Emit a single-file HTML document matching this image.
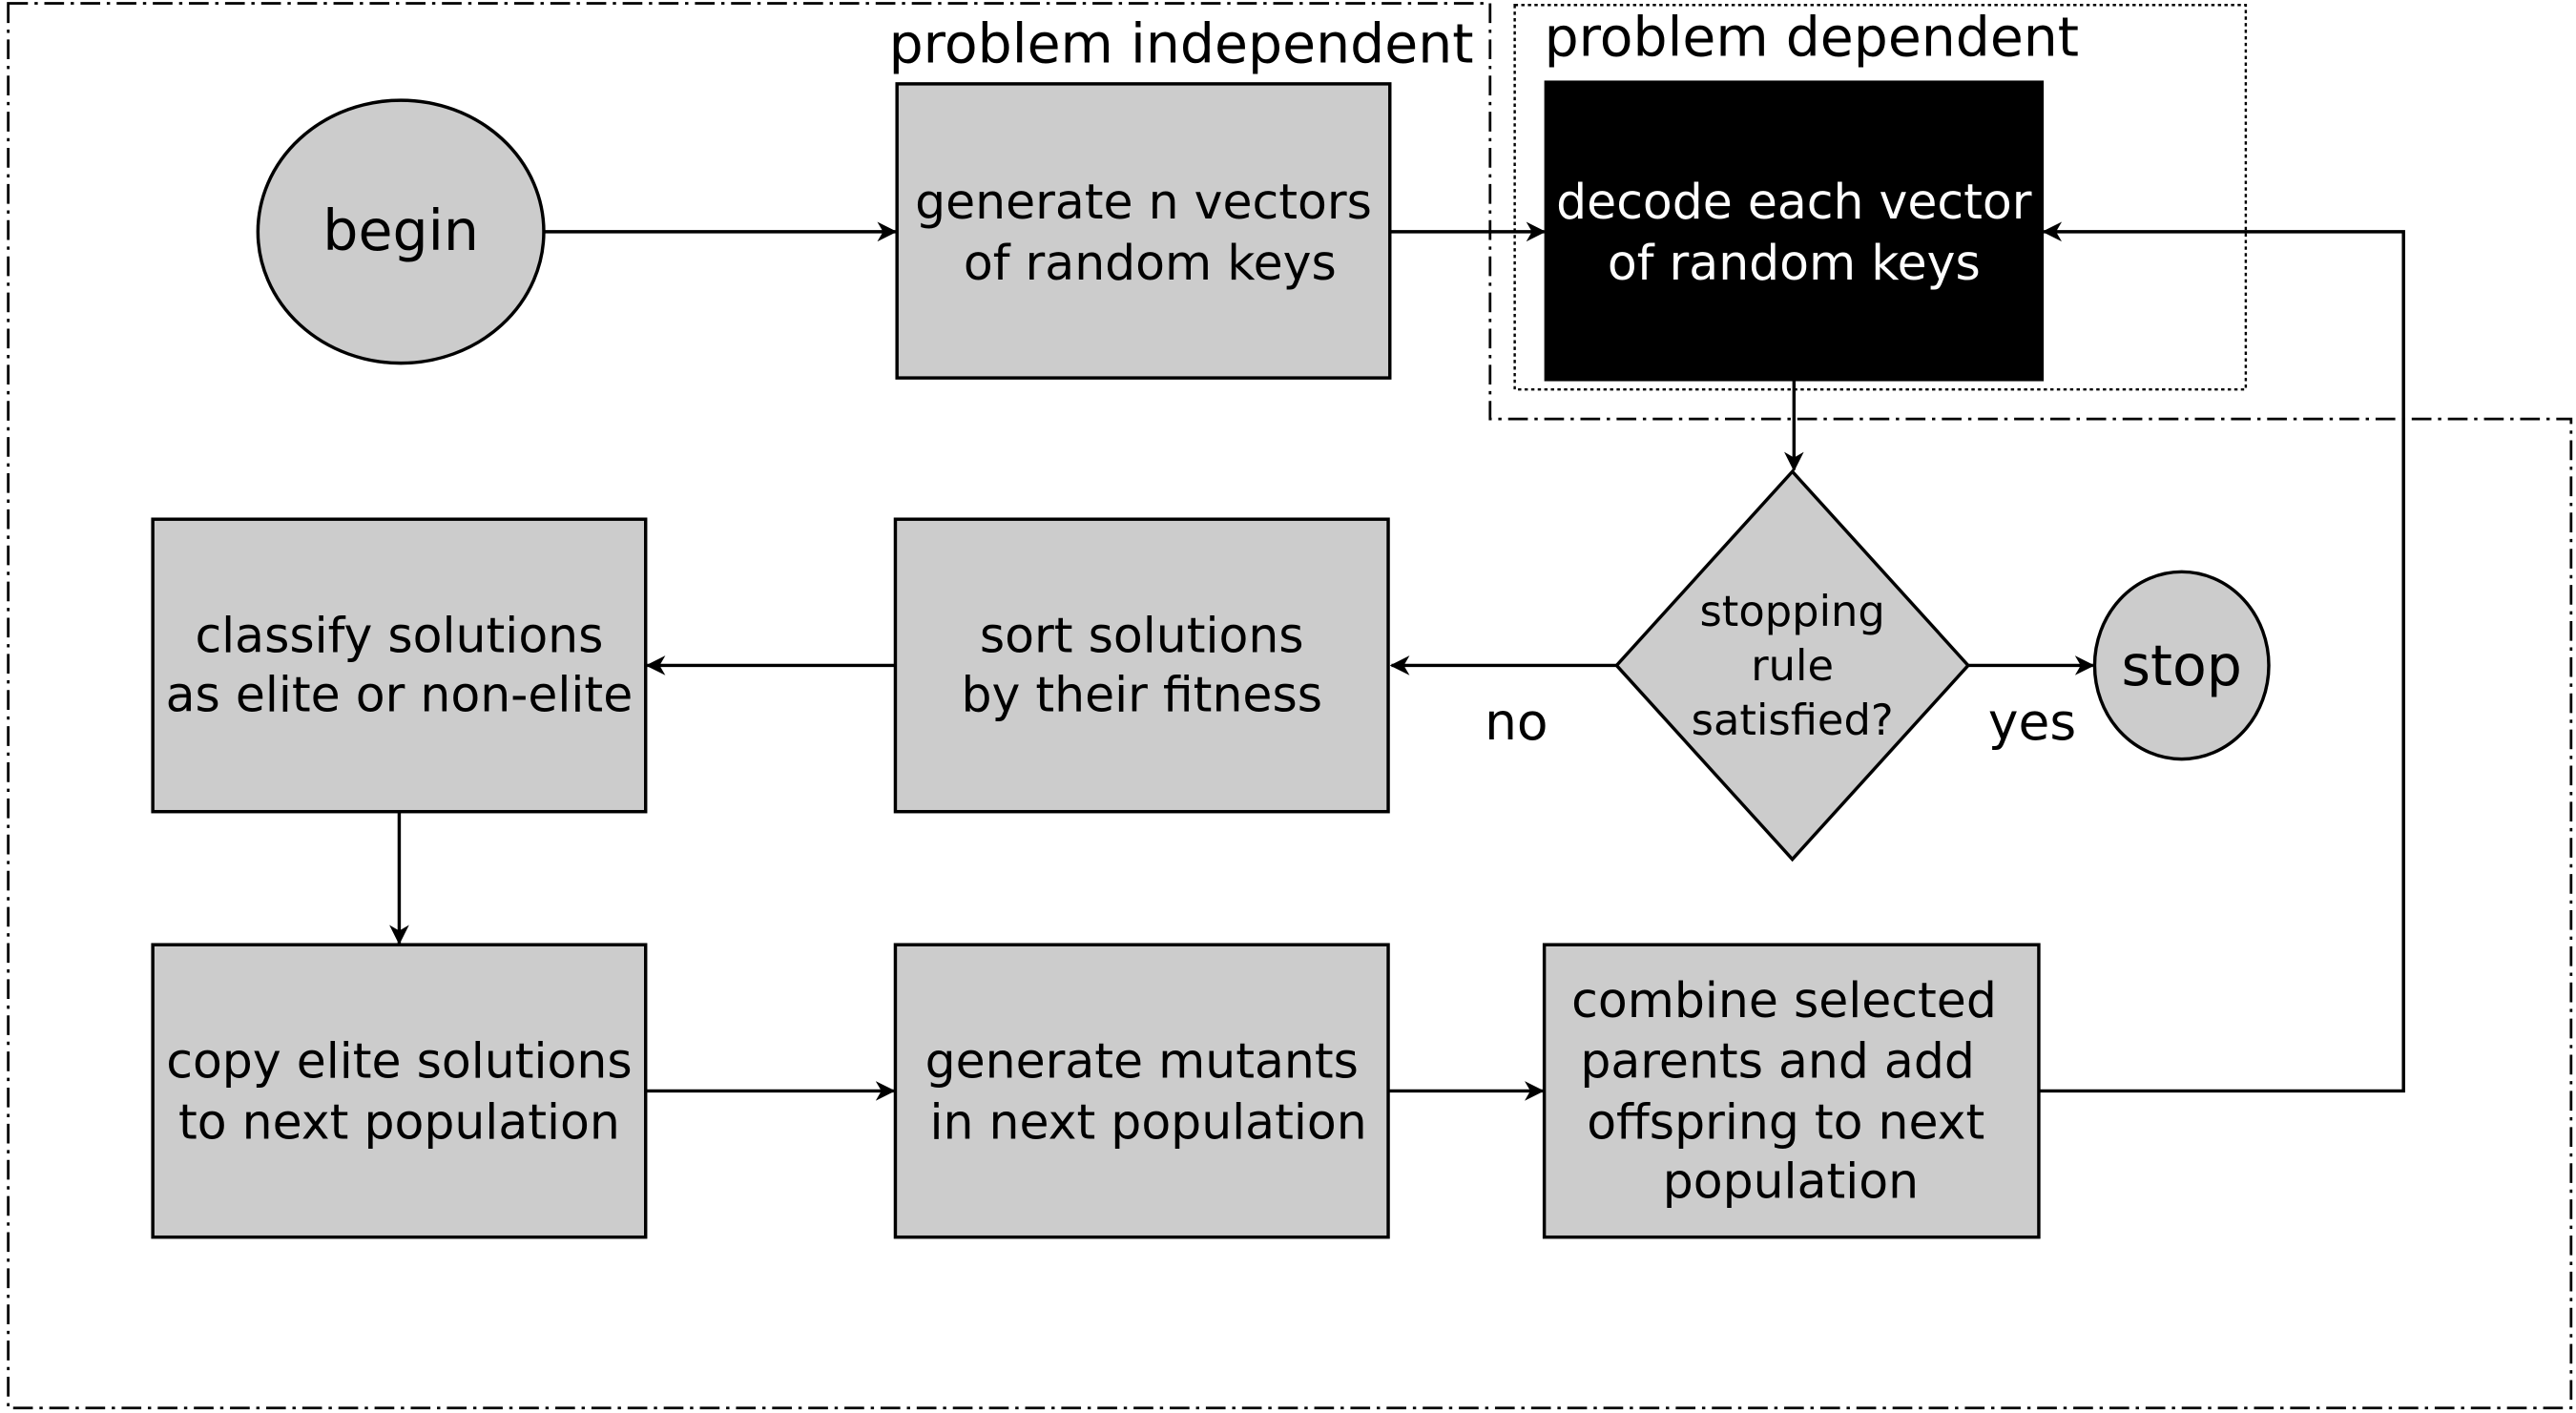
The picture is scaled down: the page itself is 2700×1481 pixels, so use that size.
<!DOCTYPE html>
<html><head><style>
html,body{margin:0;padding:0;background:#fff;}
svg{display:block;}
text{font-family:"DejaVu Sans","Liberation Sans",sans-serif;fill:#000;}
</style></head><body>
<svg width="2700" height="1481" viewBox="0 0 1568 860" xmlns="http://www.w3.org/2000/svg">
<defs>
<marker id="a" markerWidth="12" markerHeight="12" refX="11" refY="6" orient="auto" markerUnits="userSpaceOnUse">
<path d="M0,0 L12,6 L0,12 L3.5,6 Z" fill="#000"/>
</marker>
</defs>
<path d="M5,2 L907,2 L907,255 L1565,255 L1565,857 L5,857 Z" fill="none" stroke="#000" stroke-width="1.6" stroke-dasharray="12,4,2,4"/>
<rect x="922" y="3" width="445" height="234" fill="none" stroke="#000" stroke-width="1.4" stroke-dasharray="2,2"/>
<text x="541" y="38" font-size="33" textLength="356">problem independent</text>
<text x="940" y="34" font-size="33">problem dependent</text>

<g stroke="#000" stroke-width="2" fill="#ccc">
<ellipse cx="244" cy="141" rx="87" ry="80"/>
<rect x="546" y="51" width="300" height="179"/>
<rect x="941" y="50" width="302" height="181" fill="#000"/>
<polygon points="1091,287 1198,405 1091,523 984,405"/>
<ellipse cx="1328" cy="405" rx="53" ry="57"/>
<rect x="545" y="316" width="300" height="178"/>
<rect x="93" y="316" width="300" height="178"/>
<rect x="93" y="575" width="300" height="178"/>
<rect x="545" y="575" width="300" height="178"/>
<rect x="940" y="575" width="301" height="178"/>
</g>

<g stroke="#000" stroke-width="2" fill="none" marker-end="url(#a)">
<line x1="331" y1="141" x2="545" y2="141"/>
<line x1="846" y1="141" x2="940" y2="141"/>
<line x1="1092" y1="231" x2="1092" y2="286"/>
<line x1="984" y1="405" x2="847" y2="405"/>
<line x1="545" y1="405" x2="394" y2="405"/>
<line x1="1198" y1="405" x2="1274" y2="405"/>
<line x1="243" y1="494" x2="243" y2="574"/>
<line x1="393" y1="664" x2="544" y2="664"/>
<line x1="845" y1="664" x2="939" y2="664"/>
<polyline points="1241,664 1463,664 1463,141 1244,141"/>
</g>

<g font-size="29.3" text-anchor="middle">
<text x="244" y="152" font-size="34">begin</text>
<text x="696" y="133">generate n vectors</text>
<text x="700" y="170">of random keys</text>
<text x="1092" y="133" style="fill:#fff">decode each vector</text>
<text x="1092" y="170" style="fill:#fff">of random keys</text>
<text x="1091" y="381" font-size="26">stopping</text>
<text x="1091" y="414" font-size="26">rule</text>
<text x="1091" y="447" font-size="26">satisfied?</text>
<text x="1328" y="417" font-size="34">stop</text>
<text x="923" y="450" font-size="31">no</text>
<text x="1237" y="450" font-size="31">yes</text>
<text x="695" y="397">sort solutions</text>
<text x="695" y="433">by their fitness</text>
<text x="243" y="397">classify solutions</text>
<text x="243" y="433">as elite or non-elite</text>
<text x="243" y="656">copy elite solutions</text>
<text x="243" y="693">to next population</text>
<text x="695" y="656">generate mutants</text>
<text x="699" y="693">in next population</text>
<text x="1086" y="619">combine selected</text>
<text x="1082" y="656">parents and add</text>
<text x="1087" y="693">offspring to next</text>
<text x="1090" y="729">population</text>
</g>
</svg>
</body></html>
